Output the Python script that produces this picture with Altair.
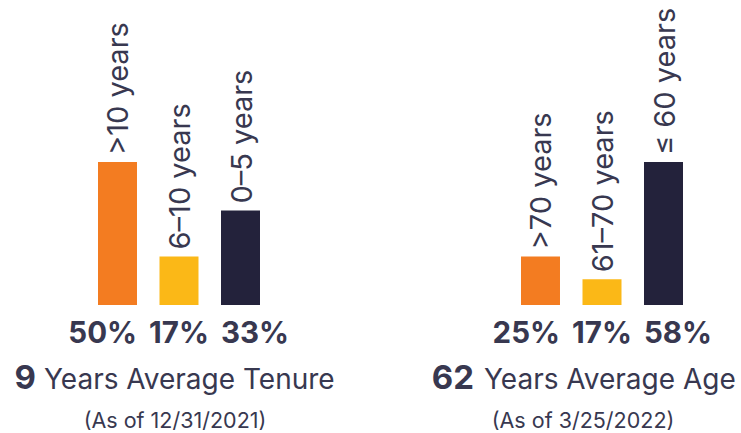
import altair as alt
import pandas as pd

# ---- data ----
tenure_cats = [">10 years", "6–10 years", "0–5 years"]
tenure_pct = [50, 17, 33]
tenure_domain = [0, 50]
tenure_big = "9"
tenure_rest = "Years Average Tenure"
tenure_sub = "(As of 12/31/2021)"

age_cats = [">70 years", "61–70 years", "≤ 60 years"]
age_pct = [25, 17, 58]
age_domain = [8, 58]
age_big = "62"
age_rest = "Years Average Age"
age_sub = "(As of 3/25/2022)"

bar_colors = ["#F37C21", "#FBB817", "#23223B"]
TXT = "#383850"
FONT = "Inter"


def panel(cats, pcts, domain, big, rest, sub, xr, num_x, rest_x, sub_x, width):
    df = pd.DataFrame({
        "cat": cats,
        "pct": pcts,
        "i": list(range(len(cats))),
        "label": [f"{p}%" for p in pcts],
    })
    xs = alt.Scale(domain=cats, range=xr, paddingInner=0.366, paddingOuter=0)
    ys = alt.Scale(domain=domain, range=[305, 162], nice=False, zero=False)
    base = alt.Chart(df)
    xenc = alt.X("cat:N", scale=xs, axis=None)

    bars = base.mark_bar().encode(
        x=xenc,
        y=alt.Y("pct:Q", scale=ys, axis=None),
        y2=alt.datum(domain[0]),
        color=alt.Color("cat:N", scale=alt.Scale(domain=cats, range=bar_colors), legend=None),
    )
    labels = base.mark_text(
        angle=270, align="left", baseline="alphabetic", dx=7, dy=11,
        fontSize=29, font=FONT, color=TXT,
    ).encode(x=xenc, y=alt.Y("pct:Q", scale=ys, axis=None), text="cat:N")

    layers = [bars, labels]
    for i, (al, bp) in enumerate([("right", 1), ("center", 0.5), ("left", 0)]):
        layers.append(
            base.transform_filter(f"datum.i == {i}").mark_text(
                align=al, baseline="alphabetic", dy=38, fontSize=29.5,
                fontWeight="bold", font=FONT, color=TXT,
            ).encode(
                x=alt.X("cat:N", scale=xs, axis=None, bandPosition=bp),
                y=alt.datum(domain[0]),
                text="label:N",
            )
        )

    tdf = pd.DataFrame({"big": [big], "rest": [rest], "sub": [sub]})
    tb = alt.Chart(tdf)
    layers.append(tb.mark_text(align="right", baseline="alphabetic", fontSize=33,
                               fontWeight="bold", font=FONT, color=TXT)
                  .encode(x=alt.value(num_x), y=alt.value(389), text="big:N"))
    layers.append(tb.mark_text(align="left", baseline="alphabetic", fontSize=28,
                               font=FONT, color=TXT)
                  .encode(x=alt.value(rest_x), y=alt.value(389), text="rest:N"))
    layers.append(tb.mark_text(align="center", baseline="alphabetic", fontSize=21.5,
                               font=FONT, color=TXT)
                  .encode(x=alt.value(sub_x), y=alt.value(428), text="sub:N"))

    return alt.layer(*layers).properties(width=width, height=433)


left = panel(tenure_cats, tenure_pct, tenure_domain, tenure_big, tenure_rest, tenure_sub,
             [98, 260], 36, 44, 175, 370)
right = panel(age_cats, age_pct, age_domain, age_big, age_rest, age_sub,
              [151, 313], 104, 114, 213, 371)

chart = alt.hconcat(left, right, spacing=0).properties(
    padding=0, background="white"
).configure_view(stroke=None).resolve_scale(x="independent", y="independent", color="independent")

chart.save("out.html", embed_options={"renderer": "svg", "actions": False})
